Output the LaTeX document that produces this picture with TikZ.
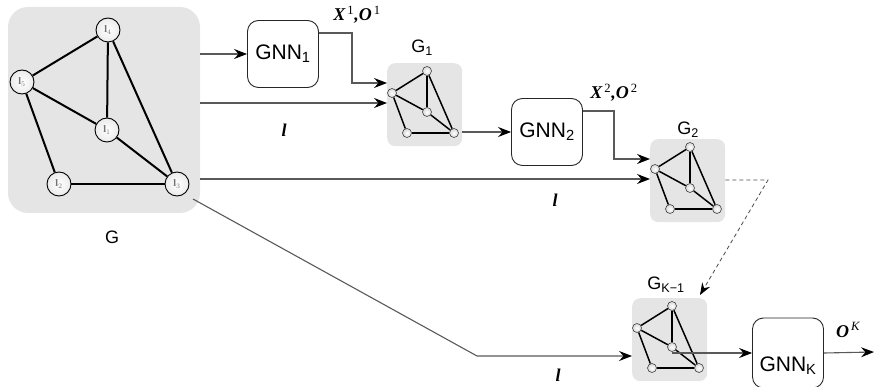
\documentclass[tikz,border=0pt]{standalone}
\usepackage{fontspec}
\setmainfont{Liberation Serif}
\setsansfont{Liberation Sans}
\usetikzlibrary{arrows.meta,calc}
\tikzset{
  gbox/.style={fill=black!10, draw=none, rounded corners=8pt, inner sep=0pt},
  gnn/.style={draw=black!85, fill=white, rounded corners=11pt, minimum width=71pt, minimum height=67pt, inner sep=0pt, line width=0.9pt, font=\sffamily\fontsize{21}{21}\selectfont},
  glabel/.style={font=\sffamily\fontsize{18}{18}\selectfont, inner sep=0pt},
  llabel/.style={font=\bfseries\itshape\fontsize{18}{18}\selectfont, inner sep=0pt},
  xlabel/.style={font=\bfseries\itshape\fontsize{18}{18}\selectfont, inner sep=0pt},
  bignd/.style={circle, draw=black, line width=0.9pt, inner color=white, outer color=black!8, minimum size=24pt, inner sep=0pt, font=\bfseries\fontsize{10}{10}\selectfont, text=black!55},
  bigedge/.style={draw=black, line width=2pt},
  smnd/.style={circle, draw=black!75, line width=0.6pt, inner color=white, outer color=black!15, minimum size=9pt, inner sep=0pt},
  smedge/.style={draw=black, line width=1.5pt},
  arr/.style={draw=black!65, line width=1.1pt, -{Stealth[length=13pt,width=10pt,inset=4.5pt,color=black]}},
  dsh/.style={draw=black!70, line width=0.8pt, dash pattern=on 4pt off 3pt, -{Stealth[length=12pt,width=9pt,inset=4pt,color=black]}},
  minigraph/.pic={
    \node[gbox, minimum width=75pt, minimum height=83pt, anchor=north west] (-box) at (0,0) {};
    \node[smnd] (-t) at (40,8) {};
    \node[smnd] (-l) at (5,30) {};
    \node[smnd] (-m) at (40,49) {};
    \node[smnd] (-bl) at (20,70) {};
    \node[smnd] (-br) at (67,70) {};
    \draw[smedge] (-t) -- (-l);
    \draw[smedge] (-t) -- (-m);
    \draw[smedge] (-t) -- (-br);
    \draw[smedge] (-l) -- (-m);
    \draw[smedge] (-l) -- (-bl);
    \draw[smedge] (-m) -- (-br);
    \draw[smedge] (-bl) -- (-br);
  }
}
\newcommand{\supsc}[1]{\textsuperscript{\,\mdseries\upshape #1}}
\begin{document}
\begin{tikzpicture}[x=1pt,y=-1pt]
\useasboundingbox (0,0) rectangle (874,387);

% big graph G
\node[gbox, rounded corners=20pt, minimum width=192pt, minimum height=206pt] (Gbox) at (104,110) {};
\node[bignd] (n4) at (108,30) {l$_4$};
\node[bignd] (n5) at (22,82) {l$_5$};
\node[bignd] (n1) at (107,130) {l$_1$};
\node[bignd] (n2) at (59,184) {l$_2$};
\node[bignd] (n3) at (177,184) {l$_3$};
\draw[bigedge] (n4) -- (n5);
\draw[bigedge] (n4) -- (n1);
\draw[bigedge] (n4) -- (n3);
\draw[bigedge] (n5) -- (n1);
\draw[bigedge] (n5) -- (n2);
\draw[bigedge] (n1) -- (n3);
\draw[bigedge] (n2) -- (n3);
\node[glabel] (Glab) at (112,237) {G};

% GNN boxes
\node[gnn] (gnn1) at (283,54) {GNN\textsubscript{1}};
\node[gnn] (gnn2) at (547,132) {GNN\textsubscript{2}};
\node[gnn, minimum height=70pt] (gnnk) at (788,353) {};
\node[font=\sffamily\fontsize{21}{21}\selectfont, inner sep=0pt] (gnnkt) at (788,366) {GNN\textsubscript{K}};

% mini graphs
\pic (g1) at (387,63) {minigraph};
\pic (g2) at (650,139) {minigraph};
\pic (gk) at (632,298) {minigraph};
\node[glabel] (g1lab) at (422,48) {G\textsubscript{1}};
\node[glabel] (g2lab) at (688,130) {G\textsubscript{2}};
\node[glabel] (gklab) at (666,285) {G\textsubscript{K−1}};

% labels
\node[xlabel] (x1) at (357,15) {X\supsc{1},O\supsc{1}};
\node[xlabel] (x2) at (614,93) {X\supsc{2},O\supsc{2}};
\node[xlabel] (ok) at (848,330) {O\textsuperscript{\,\mdseries K}};
\node[llabel] (l1) at (284,130) {l};
\node[llabel] (l2) at (555,200) {l};
\node[llabel] (l3) at (558,375) {l};

% coordinates
\coordinate (a1) at (200,103);
\coordinate (a2) at (200,179);
\coordinate (o1a) at (352,33);
\coordinate (o1b) at (352,83);
\coordinate (o2a) at (614,111);
\coordinate (o2b) at (614,159);
\coordinate (d1) at (768,180);
\coordinate (d2) at (700,295);
\coordinate (b1) at (193,199);
\coordinate (b2) at (477,356);
\coordinate (e) at (874,352);

% connectors
\draw[arr] (gnn1.west -| Gbox.east) -- (gnn1.west);
\draw[arr] (a1) -- (a1 -| g1-box.west);
\draw[arr] (gnn1.east |- o1a) -- (o1a) -- (o1b) -- (o1b -| g1-box.west);
\draw[arr] (g1-box.east |- gnn2.west) -- (gnn2.west);
\draw[arr] (gnn2.east |- o2a) -- (o2a) -- (o2b) -- (o2b -| g2-box.west);
\draw[arr] (a2) -- (a2 -| g2-box.west);
\draw[dsh] (g2-box.east |- d1) -- (d1) -- (d2);
\draw[arr] (b1) -- (b2) -- (b2 -| gk-box.west);
\draw[arr] (gk-m.center |- gnnk.west) -- (gnnk.west);
\draw[arr] (gnnk.east) -- (e);
\end{tikzpicture}
\end{document}
